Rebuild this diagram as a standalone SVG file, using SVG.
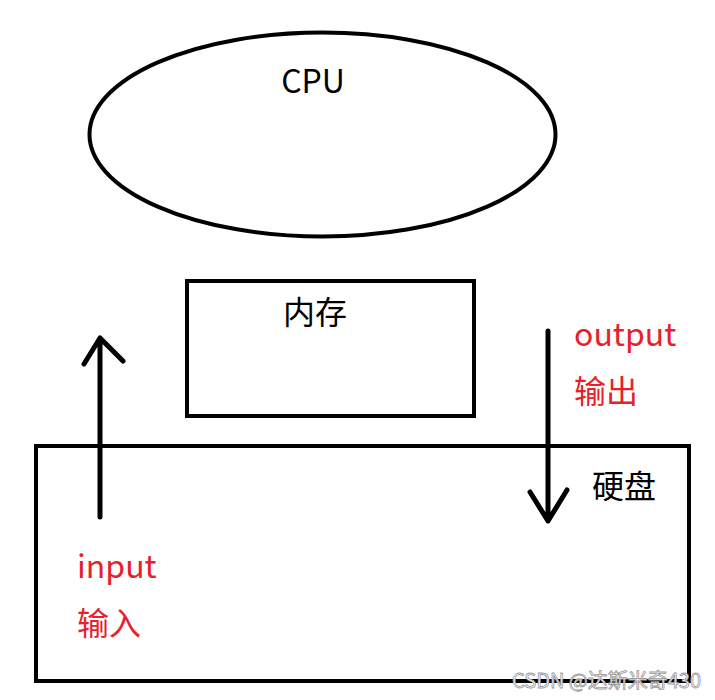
<svg xmlns="http://www.w3.org/2000/svg" width="715" height="700" viewBox="0 0 715 700">
<style>
.shape{fill:none;stroke:#000;stroke-width:4}
.line{fill:none;stroke:#000;stroke-width:5;stroke-linecap:round;stroke-linejoin:round}
.t{font-family:"Noto Sans CJK SC","Liberation Sans",sans-serif;font-size:32px;fill:#000}
.r{fill:#e8202a}
.wm{font-family:"Noto Sans CJK SC","Liberation Sans",sans-serif;font-size:20px;fill:#fff;stroke:#999;stroke-width:0.8}
</style>
<rect width="715" height="700" fill="#fff"/>
<g id="cpu">
<ellipse class="shape" cx="322.5" cy="134.5" rx="233" ry="102"/>
<text class="t" x="313" y="93" text-anchor="middle" font-size="35">CPU</text>
</g>
<g id="memory">
<rect class="shape" x="187" y="281" width="287" height="135"/>
<text class="t" x="315" y="324" text-anchor="middle">内存</text>
</g>
<g id="disk">
<rect class="shape" x="36" y="446" width="653" height="235"/>
<text class="t" x="624" y="498" text-anchor="middle">硬盘</text>
</g>
<g id="connectors">
<path class="line" d="M100 517 L100 338 M84 364 L100 338 L123 361"/>
<path class="line" d="M548 331 L548 521 M530 492 L548 521 L567 490"/>
</g>
<g id="labels">
<text class="t r" x="574" y="346">output</text>
<text class="t r" x="574" y="403">输出</text>
<text class="t r" x="77" y="578">input</text>
<text class="t r" x="77" y="635">输入</text>
</g>
<text class="wm" x="512" y="688">CSDN @达斯米奇430</text>
</svg>
